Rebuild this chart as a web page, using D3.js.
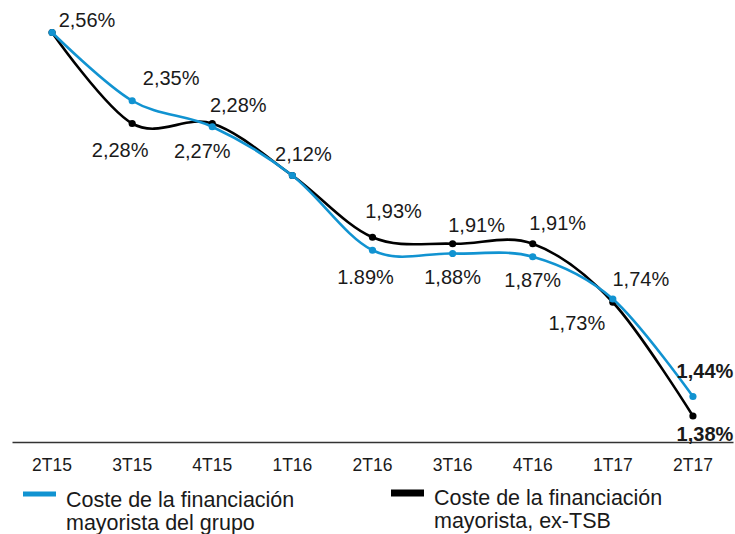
<!DOCTYPE html>
<html lang="es">
<head>
    <meta charset="UTF-8">
    <title>Coste de la financiación mayorista</title>
    <style>
        body { margin: 0; background: #fff; }
        svg text { font-family: "Liberation Sans", Arial, sans-serif; fill: #1a1a1a; }
    </style>
</head>
<body>
    <div id="chart"></div>

    <script src="https://cdn.jsdelivr.net/npm/d3@7"></script>

    <script>
        const categories = ["2T15", "3T15", "4T15", "1T16", "2T16", "3T16", "4T16", "1T17", "2T17"];
        const grupoValues = [2.56, 2.35, 2.27, 2.12, 1.89, 1.88, 1.87, 1.74, 1.44];
        const exTsbValues = [2.56, 2.28, 2.28, 2.12, 1.93, 1.91, 1.91, 1.73, 1.38];
        const grupoLabels = ["2,56%", "2,35%", "2,27%", "2,12%", "1.89%", "1,88%", "1,87%", "1,74%", "1,44%"];
        const exTsbLabels = [null, "2,28%", "2,28%", null, "1,93%", "1,91%", "1,91%", "1,73%", "1,38%"];
        const seriesNames = [
            ["Coste de la financiación", "mayorista del grupo"],
            ["Coste de la financiación", "mayorista, ex-TSB"]
        ];

        // label placement (offset from the point, px)
        const grupoOffsets = [[35, -13], [39, -23], [-10, 24], [11, -22], [-7, 27], [0, 23], [0, 23], [28, -20], [12, -26]];
        const exTsbOffsets = [null, [-12, 26], [26, -19], null, [21, -26], [24, -19], [25, -21], [-36, 21], [12, 18]];

        const width = 735, height = 534;
        const blue = "#1193d1", black = "#000";

        const svg = d3.select("#chart")
            .append("svg")
            .attr("width", width)
            .attr("height", height);

        const x = d3.scaleBand()
            .domain(categories)
            .range([12, 733])
            .padding(0);

        const y = d3.scaleLinear()
            .domain([1.30, 2.66])
            .range([442, 0]);

        const cx = d => x(d) + x.bandwidth() / 2;

        // x axis
        const axis = svg.append("g")
            .attr("transform", "translate(0,442)")
            .call(d3.axisBottom(x).tickSize(0).tickPadding(17));
        axis.select(".domain").attr("stroke", "#333").attr("stroke-width", 1.3);
        axis.selectAll("text")
            .style("font-size", "17.5px")
            .style("font-family", "'Liberation Sans', Arial, sans-serif")
            .attr("fill", "#1a1a1a");

        const line = d3.line()
            .x(d => cx(d.cat))
            .y(d => y(d.v))
            .curve(d3.curveCatmullRom.alpha(0));

        const series = [
            { values: exTsbValues, labels: exTsbLabels, offsets: exTsbOffsets, color: black },
            { values: grupoValues, labels: grupoLabels, offsets: grupoOffsets, color: blue }
        ];

        series.forEach(s => {
            const pts = categories.map((c, i) => ({ cat: c, v: s.values[i] }));
            svg.append("path")
                .datum(pts)
                .attr("fill", "none")
                .attr("stroke", s.color)
                .attr("stroke-width", 2.6)
                .attr("d", line);
            svg.append("g")
                .selectAll("circle")
                .data(pts)
                .enter()
                .append("circle")
                .attr("cx", d => cx(d.cat))
                .attr("cy", d => y(d.v))
                .attr("r", 3.6)
                .attr("fill", s.color);
        });

        series.forEach(s => {
            categories.forEach((c, i) => {
                if (!s.labels[i]) return;
                const off = s.offsets[i];
                svg.append("text")
                    .attr("x", cx(c) + off[0])
                    .attr("y", y(s.values[i]) + off[1])
                    .attr("dy", "0.35em")
                    .attr("text-anchor", "middle")
                    .style("font-size", "20px")
                    .style("font-weight", i === categories.length - 1 ? "bold" : "normal")
                    .text(s.labels[i]);
            });
        });

        // legend
        const legend = [
            { x: 23, color: blue, thick: 5, sy: 494, base: 507 },
            { x: 391, color: black, thick: 7, sy: 493, base: 505 }
        ];
        legend.forEach((l, i) => {
            svg.append("rect")
                .attr("x", l.x)
                .attr("y", l.sy - l.thick / 2)
                .attr("width", 33)
                .attr("height", l.thick)
                .attr("fill", l.color);
            const t = svg.append("text")
                .attr("x", l.x + 43)
                .attr("y", l.base)
                .style("font-size", "21.5px");
            seriesNames[i].forEach((s, j) => {
                t.append("tspan")
                    .attr("x", l.x + 43)
                    .attr("dy", j === 0 ? 0 : 23)
                    .text(s);
            });
        });
    </script>
</body>
</html>
